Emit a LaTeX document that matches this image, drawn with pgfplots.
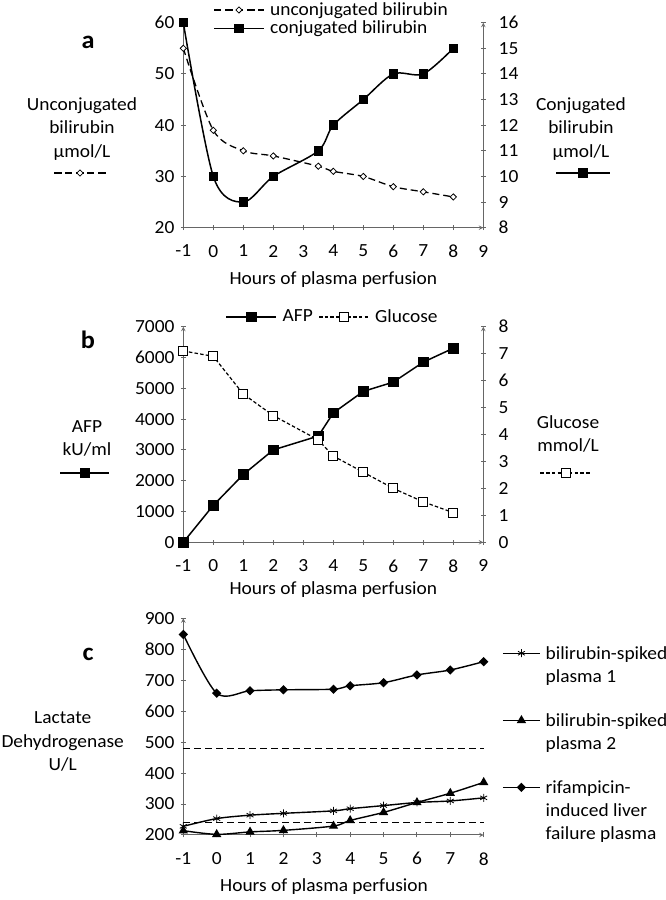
\documentclass[border=0pt]{standalone}
\usepackage{fontspec}
\setmainfont{Carlito}[FakeStretch=1.05]
\usepackage{pgfplots}
\pgfplotsset{compat=1.18}
\newcommand\lgtwo[2]{\vtop{\baselineskip=23.3pt\hbox{#1}\hbox{#2}}}
\newcommand\lgthree[3]{\vtop{\baselineskip=23.3pt\hbox{#1}\hbox{#2}\hbox{#3}}}
\pgfplotsset{
  base/.style={
    scale only axis, width=300pt,
    /pgf/number format/assume math mode=true,
    /pgf/number format/1000 sep={},
    axis line style={-, draw=black!60, line width=1pt},
    tick style={draw=black!60, line width=1pt},
    tick align=outside, major tick length=5pt,
    clip=false,
    xticklabel style={yshift=-8.5pt},
  },
  glyph/.style={legend style={at={#1}, anchor=center, draw=none, fill=none, inner sep=0pt, nodes={inner sep=0pt}}},
  cglyph/.style={legend image code/.code={\draw[mark repeat=2,mark phase=2,##1] plot coordinates {(-#1,0pt)(0pt,0pt)(#1,0pt)};}},
  unconj/.style={black, line width=1.3pt, dash pattern=on 7pt off 4pt, smooth, mark=square*, mark size=2.2pt, mark options={solid, rotate=45, fill=white, line width=0.8pt}},
  conj/.style={black, line width=1.5pt, smooth, mark=square*, mark size=4pt, mark options={solid, fill=black}},
  afp/.style={black, line width=1.5pt, mark=square*, mark size=4.6pt, mark options={solid, fill=black}},
  gluc/.style={black, line width=1.2pt, dash pattern=on 3.5pt off 2.2pt, mark=square*, mark size=4.5pt, mark options={solid, fill=white, line width=1pt}},
  sp1/.style={black, line width=1.4pt, smooth, mark=asterisk, mark size=4pt, mark options={line width=0.8pt}},
  sp2/.style={black, line width=1.4pt, smooth, mark=triangle*, mark size=4pt},
  rif/.style={black, line width=1.4pt, smooth, mark=square*, mark size=2.6pt, mark options={rotate=45}},
  refl/.style={black, line width=1.4pt, dash pattern=on 7pt off 4pt, no markers, forget plot},
}
\begin{document}
\fontsize{18.5}{23.3}\selectfont
\begin{tikzpicture}[x=1pt,y=1pt]
\useasboundingbox (0,0) rectangle (666,900);

% ---------------- panel a ----------------
\node[font=\fontsize{25}{28}\selectfont\bfseries] at (88,858) {a};
\node[align=center] at (82,771) {Unconjugated\\bilirubin\\µmol/L};
\node[align=center] at (581,771) {Conjugated\\bilirubin\\µmol/L};

\begin{axis}[base, at={(183.3pt,877.3pt)}, anchor=north west, height=205pt,
  xmin=-1, xmax=9, ymin=20, ymax=60,
  xtick={-1,0,...,9}, ytick={20,30,...,60},
  axis x line=bottom, axis y line=left,
  xlabel={Hours of plasma perfusion},
  xlabel style={at={(axis description cs:0.5,0)}, anchor=center, yshift=-52.3pt},
  legend style={at={(0.1007,1.1059)}, anchor=north west, draw=none, fill=none, inner sep=0pt, row sep=1pt, column sep=0pt, nodes={inner xsep=6pt, inner ysep=1pt}},
  legend cell align=left,
  legend image code/.code={\draw[mark repeat=2,mark phase=2,#1] plot coordinates {(0pt,0pt)(24.5pt,0pt)(49pt,0pt)};},
]
\addplot[unconj] coordinates {(-1,55) (0,39) (1,35) (2,34) (3.5,32) (4,31) (5,30) (6,28) (7,27) (8,26)};
\addlegendentry{unconjugated bilirubin}
\addlegendimage{conj}
\addlegendentry{conjugated bilirubin}
\end{axis}

\begin{axis}[base, at={(183.3pt,877.3pt)}, anchor=north west, height=205pt,
  xmin=-1, xmax=9, ymin=8, ymax=16,
  ytick={8,9,...,16},
  axis x line=none, axis y line=right,
  yticklabel style={xshift=6.5pt},
  glyph={(1.334,0.2668)}, cglyph=27pt,
]
\addplot[conj] coordinates {(-1,16) (0,10) (1,9) (2,10) (3.5,11) (4,12) (5,13) (6,14) (7,14) (8,15)};
\addlegendentry{}
\end{axis}

\begin{axis}[hide axis, scale only axis, width=300pt, height=205pt, at={(183.3pt,877.3pt)}, anchor=north west,
  xmin=0, xmax=1, ymin=0, ymax=1, glyph={(-0.3427,0.2668)}, cglyph=25.5pt]
\addlegendimage{unconj}
\addlegendentry{}
\end{axis}

% ---------------- panel b ----------------
\node[font=\fontsize{25}{28}\selectfont\bfseries] at (88,560) {b};
\node[align=center] at (87,461.7) {AFP\\kU/ml};
\node[align=center] at (568,466.3) {Glucose\\mmol/L};

\begin{axis}[base, at={(183.3pt,573.3pt)}, anchor=north west, height=215.6pt,
  xmin=-1, xmax=9, ymin=0, ymax=7000,
  xtick={-1,0,...,9}, ytick={0,1000,...,7000},
  axis x line=bottom, axis y line=left,
  xlabel={Hours of plasma perfusion},
  xlabel style={at={(axis description cs:0.5,0)}, anchor=center, yshift=-47.7pt},
  legend columns=2,
  legend style={at={(0.1407,1.0867)}, anchor=north west, draw=none, fill=none, inner sep=0pt, column sep=0pt, nodes={inner xsep=5.5pt, inner ysep=1pt}},
  legend cell align=left,
  legend image code/.code={\draw[mark repeat=2,mark phase=2,#1] plot coordinates {(0pt,0pt)(25pt,0pt)(50pt,0pt)};},
]
\addplot[afp] coordinates {(-1,0) (0,1200) (1,2200) (2,3000) (3.5,3450) (4,4200) (5,4900) (6,5200) (7,5850) (8,6300)};
\addlegendentry{AFP}
\addlegendimage{gluc}
\addlegendentry{Glucose}
\end{axis}

\begin{axis}[base, at={(183.3pt,573.3pt)}, anchor=north west, height=215.6pt,
  xmin=-1, xmax=9, ymin=0, ymax=8,
  ytick={0,1,...,8},
  axis x line=none, axis y line=right,
  yticklabel style={xshift=6.5pt},
  glyph={(1.2773,0.3214)}, cglyph=25.5pt,
]
\addplot[gluc] coordinates {(-1,7.1) (0,6.9) (1,5.5) (2,4.7) (3.5,3.8) (4,3.2) (5,2.6) (6,2.0) (7,1.5) (8,1.1)};
\addlegendentry{}
\end{axis}

\begin{axis}[hide axis, scale only axis, width=300pt, height=215.6pt, at={(183.3pt,573.3pt)}, anchor=north west,
  xmin=0, xmax=1, ymin=0, ymax=1, glyph={(-0.326,0.3214)}, cglyph=24.5pt]
\addlegendimage{afp}
\addlegendentry{}
\end{axis}

% ---------------- panel c ----------------
\node[font=\fontsize{25}{28}\selectfont\bfseries] at (88,246) {c};
\node[align=center] at (62.7,158.3) {Lactate\\Dehydrogenase\\U/L};

\begin{axis}[base, at={(183.3pt,281.7pt)}, anchor=north west, width=300.4pt, height=216.7pt,
  xmin=-1, xmax=8, ymin=200, ymax=900,
  xtick={-1,0,...,8}, ytick={200,300,...,900},
  axis x line=bottom, axis y line=left,
  xlabel={Hours of plasma perfusion},
  xlabel style={at={(axis description cs:0.5,0)}, anchor=center, yshift=-51.7pt, xshift=-9.5pt},
  legend style={at={(1.061,0.8768)}, anchor=north west, draw=none, fill=none, inner sep=0pt, row sep=26pt, column sep=0pt,
    cells={anchor=base west}, nodes={inner xsep=5pt, inner ysep=1pt, text depth=}},
  legend image code/.code={\draw[mark repeat=2,mark phase=2,#1] plot coordinates {(0pt,5.8pt)(18.5pt,5.8pt)(37pt,5.8pt)};},
]
\addplot[refl] coordinates {(-1,480) (8,480)};
\addplot[refl] coordinates {(-1,240) (8,240)};
\addplot[sp1] coordinates {(-1,228) (0,253) (1,264) (2,270) (3.5,278) (4,285) (5,295) (6,305) (7,310) (8,320)};
\addlegendentry{\lgtwo{bilirubin-spiked}{plasma 1}}
\addplot[sp2] coordinates {(-1,214) (0,202) (1,210) (2,215) (3.5,229) (4,247) (5,273) (6,305) (7,335) (8,370)};
\addlegendentry{\lgtwo{bilirubin-spiked}{plasma 2}}
\addplot[rif] coordinates {(-1,848) (0,658) (1,666) (2,669) (3.5,671) (4,682) (5,692) (6,717) (7,733) (8,760)};
\addlegendentry{\lgthree{rifampicin-}{induced liver}{failure plasma}}
\end{axis}
\end{tikzpicture}
\end{document}
